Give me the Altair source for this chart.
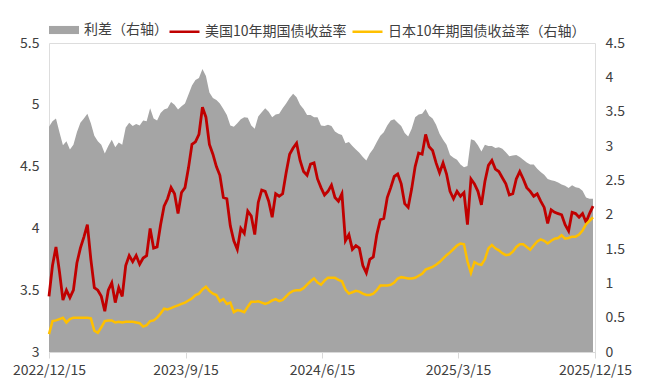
import altair as alt
import pandas as pd

# weekly observations starting 2022-12-15
start_date = "2022-12-15"
n_weeks = 157

us10y = [
    3.45, 3.70, 3.85, 3.65, 3.42, 3.50, 3.44, 3.50, 3.72, 3.84,
    3.93, 4.03, 3.75, 3.52, 3.50, 3.45, 3.33, 3.50, 3.56, 3.40,
    3.52, 3.45, 3.70, 3.78, 3.73, 3.78, 3.71, 3.76, 3.78, 4.00,
    3.84, 3.85, 4.03, 4.18, 4.24, 4.33, 4.28, 4.12, 4.29, 4.33,
    4.49, 4.68, 4.70, 4.76, 4.98, 4.90, 4.68, 4.60, 4.50, 4.43,
    4.25, 4.24, 4.02, 3.90, 3.83, 4.00, 3.96, 4.14, 4.10, 3.95,
    4.21, 4.31, 4.30, 4.22, 4.09, 4.28, 4.26, 4.28, 4.45, 4.60,
    4.65, 4.69, 4.55, 4.46, 4.43, 4.52, 4.53, 4.40, 4.33, 4.27,
    4.30, 4.35, 4.25, 4.22, 4.28, 3.90, 3.95, 3.83, 3.86, 3.84,
    3.70, 3.64, 3.75, 3.77, 3.95, 4.07, 4.08, 4.25, 4.33, 4.42,
    4.44, 4.36, 4.20, 4.17, 4.32, 4.50, 4.61, 4.60, 4.76, 4.66,
    4.63, 4.53, 4.45, 4.53, 4.44, 4.30, 4.24, 4.30, 4.26, 4.29,
    4.03, 4.40, 4.36, 4.30, 4.19, 4.38, 4.51, 4.55, 4.48, 4.46,
    4.41, 4.36, 4.27, 4.28, 4.40, 4.46, 4.40, 4.33, 4.30, 4.26,
    4.28, 4.22, 4.17, 4.04, 4.15, 4.13, 4.12, 4.11, 4.03, 3.98,
    4.13, 4.12, 4.09, 4.12, 4.05, 4.12, 4.18,
]

jp10y = [
    0.26, 0.45, 0.46, 0.48, 0.50, 0.43, 0.48, 0.50, 0.50, 0.50,
    0.50, 0.50, 0.49, 0.31, 0.28, 0.36, 0.45, 0.46, 0.46, 0.43,
    0.44, 0.43, 0.44, 0.44, 0.44, 0.43, 0.42, 0.37, 0.39, 0.45,
    0.46, 0.50, 0.56, 0.63, 0.62, 0.64, 0.66, 0.68, 0.70, 0.72,
    0.75, 0.78, 0.83, 0.85, 0.91, 0.95, 0.89, 0.85, 0.83, 0.74,
    0.77, 0.70, 0.72, 0.58, 0.61, 0.60, 0.58, 0.66, 0.73, 0.73,
    0.74, 0.72, 0.70, 0.72, 0.75, 0.77, 0.74, 0.76, 0.81, 0.86,
    0.89, 0.90, 0.90, 0.93, 0.98, 1.03, 1.07, 1.01, 0.98, 1.04,
    1.08, 1.08, 1.08, 1.05, 1.03, 0.91, 0.85, 0.87, 0.89, 0.88,
    0.85, 0.83, 0.83, 0.85, 0.90, 0.97, 0.97, 0.97, 0.98, 1.01,
    1.07, 1.09, 1.08, 1.07, 1.07, 1.08, 1.11, 1.14, 1.20, 1.22,
    1.24, 1.27, 1.31, 1.36, 1.41, 1.45, 1.50, 1.55, 1.58, 1.57,
    1.32, 1.15, 1.31, 1.28, 1.27, 1.35, 1.51, 1.56, 1.51, 1.48,
    1.44, 1.41, 1.42, 1.46, 1.53, 1.57, 1.57, 1.53, 1.49, 1.55,
    1.61, 1.64, 1.62, 1.58, 1.62, 1.65, 1.66, 1.70, 1.65, 1.66,
    1.68, 1.68, 1.71, 1.77, 1.86, 1.91, 1.96,
]

spread = [
    3.28, 3.36, 3.40, 3.20, 3.01, 3.07, 2.95, 3.02, 3.20, 3.34,
    3.40, 3.47, 3.33, 3.15, 3.07, 3.02, 2.89, 3.00, 3.09, 2.98,
    3.05, 3.02, 3.27, 3.34, 3.29, 3.32, 3.30, 3.37, 3.36, 3.55,
    3.40, 3.37, 3.48, 3.53, 3.55, 3.64, 3.60, 3.53, 3.58, 3.62,
    3.75, 3.88, 3.96, 3.99, 4.12, 4.02, 3.78, 3.70, 3.67, 3.62,
    3.54, 3.45, 3.30, 3.28, 3.33, 3.39, 3.42, 3.41, 3.30, 3.25,
    3.43, 3.49, 3.55, 3.50, 3.42, 3.46, 3.47, 3.55, 3.62, 3.70,
    3.76, 3.71, 3.60, 3.54, 3.45, 3.45, 3.42, 3.42, 3.30, 3.29,
    3.31, 3.29, 3.21, 3.18, 3.16, 3.04, 3.06, 3.00, 2.95, 2.90,
    2.84, 2.79, 2.89, 2.96, 3.06, 3.15, 3.20, 3.30, 3.37, 3.39,
    3.34, 3.29, 3.19, 3.14, 3.25, 3.42, 3.46, 3.47, 3.54, 3.44,
    3.40, 3.31, 3.18, 3.09, 3.02, 2.87, 2.83, 2.80, 2.73, 2.69,
    2.71, 3.10, 3.08, 3.01, 2.92, 3.02, 3.00, 3.00, 2.97, 2.98,
    2.96, 2.91, 2.85, 2.86, 2.87, 2.84, 2.80, 2.76, 2.73, 2.73,
    2.67, 2.62, 2.58, 2.52, 2.50, 2.49, 2.47, 2.44, 2.42, 2.39,
    2.43, 2.40, 2.39, 2.35, 2.25, 2.23, 2.23,
]

series_names = ["利差（右轴）", "美国10年期国债收益率", "日本10年期国债收益率（右轴）"]
series_colors = ["#a5a5a5", "#c00000", "#ffc000"]
tick_dates = [(2022, 12, 15), (2023, 9, 15), (2024, 6, 15), (2025, 3, 15), (2025, 12, 15)]
left_ticks = [3, 3.5, 4, 4.5, 5, 5.5]
right_ticks = [0, 0.5, 1, 1.5, 2, 2.5, 3, 3.5, 4, 4.5]

dates = pd.date_range(start_date, periods=n_weeks, freq="7D").strftime("%Y-%m-%d")
df = pd.DataFrame({"date": dates, "us": us10y, "jp": jp10y, "spread": spread})

FONT = "Noto Sans CJK SC"
LABEL_COLOR = "#404040"


def dt(t):
    return alt.DateTime(year=t[0], month=t[1], date=t[2], utc=True)


x_enc = alt.X(
    "date:T",
    scale=alt.Scale(type="utc", domain=[dt(tick_dates[0]), dt(tick_dates[-1])]),
    axis=alt.Axis(
        title=None,
        values=[dt(t) for t in tick_dates],
        format="%Y/%-m/%-d",
        labelFlush=False,
        labelOverlap=False,
        grid=False,
        domainColor="#d9d9d9",
        tickColor="#d9d9d9",
        tickSize=6,
        labelPadding=5,
        labelFont=FONT,
        labelFontSize=14,
        labelColor=LABEL_COLOR,
    ),
)

right_scale = alt.Scale(domain=[0, 4.5], nice=False, zero=False)
left_scale = alt.Scale(domain=[3, 5.5], nice=False, zero=False)

area = alt.Chart(df).transform_calculate(s=f"'{series_names[0]}'").mark_area(opacity=1).encode(
    x=x_enc,
    y=alt.Y(
        "spread:Q",
        scale=right_scale,
        axis=alt.Axis(
            orient="right", title=None, values=right_ticks, format="~g",
            grid=False, domain=False, ticks=False, tickSize=0, labelPadding=10,
            labelFont=FONT, labelFontSize=14, labelColor=LABEL_COLOR,
        ),
    ),
    fill=alt.Fill(
        "s:N",
        scale=alt.Scale(domain=[series_names[0]], range=[series_colors[0]]),
        legend=alt.Legend(
            orient="none", legendX=0, legendY=-28, title=None, direction="horizontal",
            symbolType="M-1,-0.27H1V0.27H-1Z", symbolSize=900, symbolStrokeWidth=0,
            symbolOpacity=1, labelLimit=400,
            labelFont=FONT, labelFontSize=14, labelColor=LABEL_COLOR, labelOffset=5,
            padding=0,
        ),
    ),
)

stroke_scale = alt.Scale(domain=series_names[1:], range=series_colors[1:])
stroke_legend = alt.Legend(
    orient="none", legendX=119, legendY=-28, title=None, direction="horizontal",
    symbolType="stroke", symbolSize=900, symbolStrokeWidth=2.5, labelLimit=400,
    labelFont=FONT, labelFontSize=14, labelColor=LABEL_COLOR, labelOffset=4,
    columnPadding=0, padding=0,
)

red = alt.Chart(df).transform_calculate(s=f"'{series_names[1]}'").mark_line(strokeWidth=2.8).encode(
    x=x_enc,
    y=alt.Y(
        "us:Q",
        scale=left_scale,
        axis=alt.Axis(
            orient="left", title=None, values=left_ticks, format="~g",
            grid=False, domain=False, ticks=False, tickSize=0, labelPadding=10,
            labelFont=FONT, labelFontSize=14, labelColor=LABEL_COLOR,
        ),
    ),
    stroke=alt.Stroke("s:N", scale=stroke_scale, legend=stroke_legend),
)

yellow = alt.Chart(df).transform_calculate(s=f"'{series_names[2]}'").mark_line(strokeWidth=2.5).encode(
    x=x_enc,
    y=alt.Y("jp:Q", scale=right_scale, axis=None),
    stroke=alt.Stroke("s:N", scale=stroke_scale, legend=stroke_legend),
)

chart = (
    alt.layer(area, red, yellow)
    .resolve_scale(y="independent")
    .properties(
        width=546,
        height=309,
        padding={"left": 41, "top": 35, "right": 47, "bottom": 31},
        autosize=alt.AutoSizeParams(type="none"),
    )
    .configure_view(stroke=None)
    .configure(background="white")
)

chart.save("out.html", embed_options={"renderer": "svg", "actions": False})
